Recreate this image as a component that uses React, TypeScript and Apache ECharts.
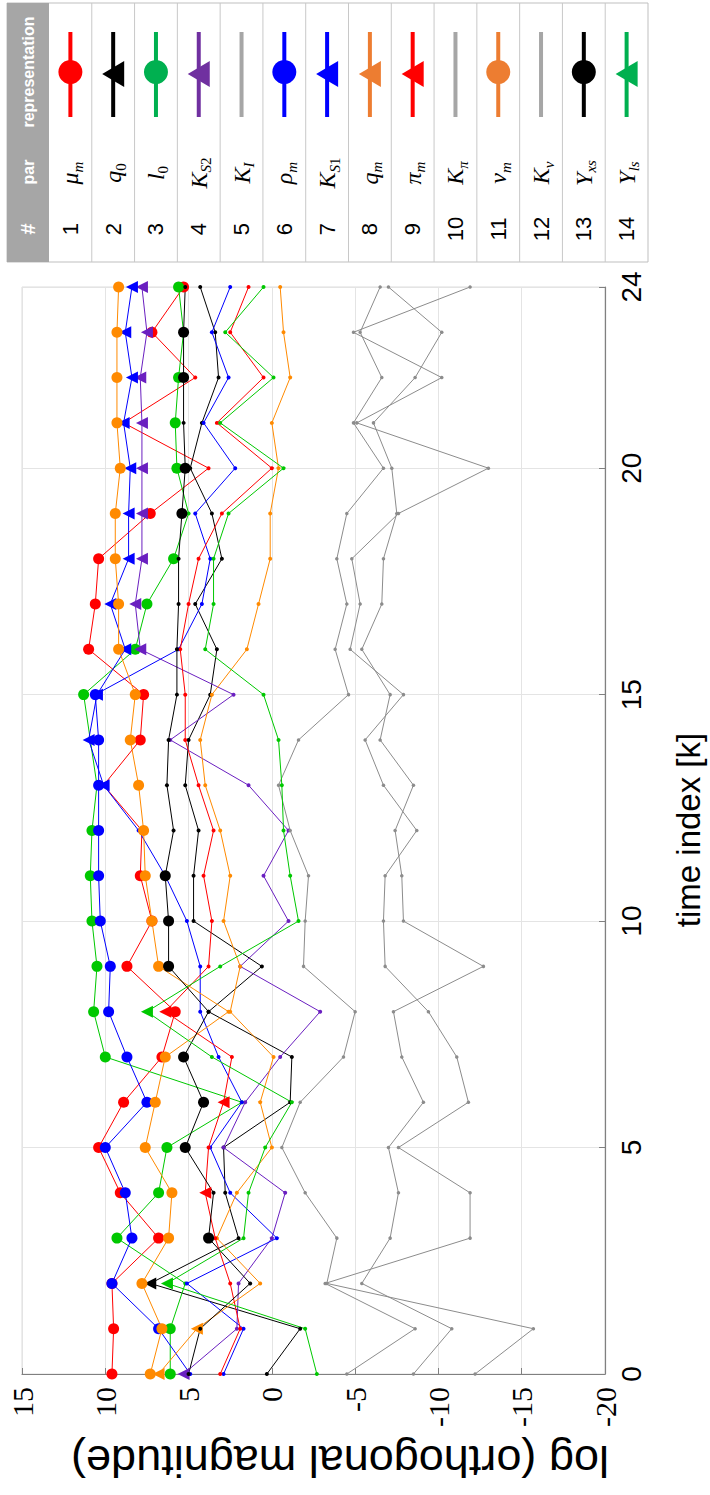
import React, { useEffect, useRef } from "react";
import * as echarts from "echarts";

// ---------- data ----------
const timeIndex = [0, 1, 2, 3, 4, 5, 6, 7, 8, 9, 10, 11, 12, 13, 14, 15, 16, 17, 18, 19, 20, 21, 22, 23, 24];
const valueTicks = [15, 10, 5, 0, -5, -10, -15, -20];

const muM = [9.6, 9.5, 9.6, 6.8, 9.1, 10.4, 8.9, 6.6, 5.8, 8.7, 7.2, 7.9, 7.8, 10.1, 7.9, 7.7, 11.0, 10.6, 10.4, 7.3, 3.8, 8.9, 4.6, 7.2, 5.3];
const q0 = [0.3, -1.7, 7.3, 2.0, 2.8, 2.9, -1.1, -1.2, 3.8, 0.6, 4.7, 4.7, 4.4, 5.2, 5.0, 3.7, 3.3, 4.6, 3.0, 3.6, 4.9, 4.2, 3.2, 3.4, 4.3];
const l0 = [6.1, 6.1, 5.2, 9.3, 6.8, 6.3, 1.8, 10.0, 10.7, 10.5, 10.8, 10.9, 10.8, 10.5, 10.9, 11.3, 8.2, 7.5, 5.9, 5.0, 5.7, 5.8, 5.6, 5.3, 5.6];
const kS2 = [5.3, 2.1, 2.0, 0.0, -0.8, 2.9, 1.6, -0.5, -2.9, 1.9, -1.0, 0.5, -1.0, 1.4, 6.1, 2.3, 7.9, 8.2, 7.8, 7.8, 7.8, 7.8, 7.9, 7.5, 7.8];
const kI = [-4.5, -8.6, -3.2, -11.9, -11.9, -7.6, -11.8, -11.1, -9.4, -6.8, -6.7, -6.8, -8.7, -6.7, -5.6, -7.9, -4.7, -5.3, -4.8, -7.6, -13.0, -5.1, -10.2, -4.9, -11.9];
const rhoM = [4.9, 6.8, 9.6, 8.4, 8.8, 10.0, 7.5, 8.7, 9.8, 9.7, 10.3, 10.4, 10.4, 10.4, 10.4, 10.6, 5.6, 4.2, 3.7, 4.6, 2.2, 4.1, 2.6, 3.6, 2.5];
const kS1 = [2.9, 1.7, 5.1, -0.3, 2.5, 3.7, 1.8, 3.2, 4.3, 4.3, 5.1, 6.4, 8.0, 10.1, 11.0, 10.5, 8.8, 9.7, 8.6, 8.6, 8.5, 8.9, 8.4, 8.8, 8.4];
const qM = [6.8, 4.5, 0.7, 3.3, 2.1, 0.0, 0.7, -0.1, 2.5, 1.9, 2.9, 2.5, 3.1, 4.0, 4.3, 3.6, 1.5, 0.8, 0.1, 0.1, -0.4, 0.0, -1.1, -0.7, -0.5];
const piM = [3.1, 1.9, 2.5, 3.4, 4.0, 3.8, 2.9, 2.4, 6.4, 3.8, 3.6, 4.1, 3.5, 4.4, 5.2, 5.2, 5.5, 5.0, 4.4, 3.0, 0.0, 3.3, 0.5, 2.5, 1.4];
const kPi = [-12.2, -15.7, -3.3, -3.9, -2.0, -0.6, -1.7, -4.3, -5.0, -1.9, -2.0, -2.2, -1.1, -0.4, -1.6, -4.6, -3.8, -4.5, -3.9, -4.5, -6.7, -4.9, -6.6, -5.3, -6.5];
const vM = [7.3, 6.6, 7.8, 6.2, 6.0, 7.6, 7.0, 6.4, 2.6, 6.8, 7.2, 7.6, 7.7, 8.0, 8.5, 8.2, 9.2, 9.2, 9.4, 9.4, 9.1, 9.3, 9.3, 9.3, 9.2];
const kV = [-8.5, -10.8, -5.4, -7.1, -7.6, -7.0, -9.1, -7.8, -7.3, -12.7, -7.9, -7.8, -7.4, -8.5, -6.5, -7.1, -5.4, -6.6, -6.7, -7.5, -7.2, -6.1, -8.6, -10.2, -7.0];
const yXs = [5.0, 4.3, 1.3, 3.8, 3.5, 5.2, 4.1, 5.3, 3.8, 6.2, 6.2, 6.4, 5.9, 6.3, 6.2, 5.7, 5.7, 5.6, 5.6, 5.4, 5.2, 5.3, 5.3, 5.3, 5.2];
const yLs = [-2.7, -2.0, 6.3, 1.7, 1.4, 0.4, -1.2, 3.6, 7.5, 3.1, -1.6, -1.1, -0.7, -0.6, -0.4, 0.5, 4.0, 3.5, 3.5, 2.6, -0.7, 3.1, -0.1, 2.8, 0.5];

// time indices at which each parameter is drawn with its representative (large) marker
const muMBig = [0, 1, 2, 3, 4, 5, 6, 7, 8, 9, 10, 11, 14, 15, 16, 17, 18, 19, 23, 24];
const q0Big = [2];
const l0Big = [0, 1, 3, 4, 5, 7, 8, 9, 10, 11, 12, 15, 16, 17, 18, 20, 21, 22, 24];
const kS2Big = [0, 16, 17, 18, 19, 20, 21, 22, 23, 24];
const rhoMBig = [1, 2, 3, 4, 5, 6, 7, 8, 9, 10, 11, 12, 13, 14, 15];
const kS1Big = [13, 14, 15, 16, 17, 18, 19, 20, 21, 22, 23, 24];
const qMBig = [0, 1];
const piMBig = [4, 6, 8];
const vMBig = [0, 1, 2, 3, 4, 5, 6, 7, 9, 10, 11, 12, 13, 14, 15, 16, 17, 18, 19, 20, 21, 22, 23, 24];
const yXsBig = [3, 5, 6, 7, 9, 10, 11, 19, 20, 22, 23];
const yLsBig = [2, 8];

const legendNumbers = ["1", "2", "3", "4", "5", "6", "7", "8", "9", "10", "11", "12", "13", "14"];
const legendPars = [
  "{i|μ}{s|m}", "{i|q}{n|0}", "{i|l}{n|0}", "{i|K}{s|S}{n|2}", "{i|K}{s|I}", "{i|ρ}{s|m}", "{i|K}{s|S}{n|1}",
  "{i|q}{s|m}", "{i|π}{s|m}", "{i|K}{s|π}", "{i|v}{s|m}", "{i|K}{s|v}", "{i|Y}{s|xs}", "{i|Y}{s|ls}",
];

// ---------- styles ----------
const RED = "#ff0000";
const BLACK = "#000000";
const GREEN = "#00c800";
const PURPLE = "#6a1fc0";
const GRAY = "#8c8c8c";
const BLUE = "#0000ff";
const ORANGE = "#ff8a00";

const legendColors = ["#ff0000", "#000000", "#00b050", "#7030a0", "#a6a6a6", "#0000ff", "#0000ff", "#ed7d31", "#ff0000", "#a6a6a6", "#ed7d31", "#a6a6a6", "#000000", "#00b050"];
const legendMarks = ["circle", "triangle", "circle", "triangle", "none", "circle", "triangle", "triangle", "triangle", "none", "circle", "none", "circle", "triangle"];

function markerSeries(name: string, values: number[], color: string, shape: string, big: number[]) {
  const bigSize = shape === "triangle" ? 12 : 11;
  return {
    name,
    type: "line",
    data: timeIndex.map((k, i) => [values[i], k]),
    lineStyle: { color, width: 1 },
    itemStyle: { color },
    showSymbol: true,
    symbol: (_v: any, p: any) => (big.includes(p.dataIndex) ? shape : "circle"),
    symbolSize: (_v: any, p: any) => (big.includes(p.dataIndex) ? bigSize : 4),
    symbolRotate: shape === "triangle" ? 90 : 0,
    silent: true,
    emphasis: { disabled: true },
  };
}

function graySeries(name: string, values: number[]) {
  return {
    name,
    type: "line",
    data: timeIndex.map((k, i) => [values[i], k]),
    lineStyle: { color: GRAY, width: 1 },
    itemStyle: { color: GRAY },
    showSymbol: true,
    symbol: "circle",
    symbolSize: 3.5,
    silent: true,
    emphasis: { disabled: true },
  };
}

function buildLegend() {
  const els: any[] = [];
  const x0 = 7, x1 = 49, x2 = 648, y0 = 3, y1 = 262;
  const colW = (x2 - x1) / 14;
  els.push({ type: "rect", shape: { x: x0, y: y0, width: x2 - x0, height: y1 - y0 }, style: { fill: "#ffffff", stroke: "#bfbfbf", lineWidth: 1 }, z: 1 });
  els.push({ type: "rect", shape: { x: x0, y: y0, width: x1 - x0, height: y1 - y0 }, style: { fill: "#a6a6a6" }, z: 2 });
  const hdr = (t: string, y: number, size: number) => ({
    type: "text", x: (x0 + x1) / 2, y, rotation: Math.PI / 2, z: 3,
    style: { text: t, fill: "#ffffff", fontSize: size, fontWeight: "bold", fontFamily: "Liberation Sans, Arial, sans-serif", align: "center", verticalAlign: "middle" },
  });
  els.push(hdr("#", 229, 20));
  els.push(hdr("par", 172, 16));
  els.push(hdr("representation", 72, 16));
  for (let i = 0; i < 14; i++) {
    const cx = x1 + colW * (i + 0.5);
    const c = legendColors[i];
    if (i < 13) {
      const sx = x1 + colW * (i + 1);
      els.push({ type: "line", shape: { x1: sx, y1: y0, x2: sx, y2: y1 }, style: { stroke: "#c8c8c8", lineWidth: 1 }, z: 2 });
    }
    els.push({ type: "line", shape: { x1: cx, y1: 32, x2: cx, y2: 117 }, style: { stroke: c, lineWidth: 4 }, z: 3 });
    if (legendMarks[i] === "circle") {
      els.push({ type: "circle", shape: { cx, cy: 72, r: 12 }, style: { fill: c }, z: 4 });
    } else if (legendMarks[i] === "triangle") {
      els.push({ type: "polygon", shape: { points: [[cx - 11, 74], [cx + 11, 61], [cx + 11, 87]] }, style: { fill: c }, z: 4 });
    }
    els.push({
      type: "text", x: cx, y: 229, rotation: Math.PI / 2, z: 3,
      style: { text: legendNumbers[i], fill: "#000", fontSize: 22, fontFamily: "Liberation Sans, Arial, sans-serif", align: "center", verticalAlign: "middle" },
    });
    els.push({
      type: "text", x: cx, y: 173, rotation: Math.PI / 2, z: 3,
      style: {
        text: legendPars[i], align: "center", verticalAlign: "middle",
        rich: {
          i: { fontSize: 24, fontStyle: "italic", fontFamily: "Liberation Serif, serif", fill: "#000", lineHeight: 30, verticalAlign: "middle" },
          s: { fontSize: 15, fontStyle: "italic", fontFamily: "Liberation Serif, serif", fill: "#000", lineHeight: 16, verticalAlign: "bottom" },
          n: { fontSize: 15, fontFamily: "Liberation Serif, serif", fill: "#000", lineHeight: 16, verticalAlign: "bottom" },
        },
      },
    });
  }
  return els;
}

export default function App() {
  const ref = useRef<HTMLDivElement>(null);
  useEffect(() => {
    if (!ref.current) return;
    const chart = echarts.init(ref.current, null, { renderer: "svg" });
    const option: any = {
      animation: false,
      backgroundColor: "#ffffff",
      grid: { left: 22, right: 105, top: 287, bottom: 121, show: true, borderColor: "#dcdcdc", borderWidth: 1, backgroundColor: "transparent" },
      xAxis: {
        type: "value", min: -20, max: 15, interval: 5, inverse: true, position: "bottom",
        axisLine: { show: true, onZero: false, lineStyle: { color: "#808080", width: 1.2 } },
        axisTick: { show: true, inside: true, length: 6, lineStyle: { color: "#808080" } },
        splitLine: { show: true, lineStyle: { color: "#e4e4e4", width: 1 } },
        axisLabel: {
          rotate: 90, margin: 13, fontSize: 30, color: "#000",
          fontFamily: "Liberation Serif, serif",
          formatter: (v: number) => (valueTicks.includes(v) ? String(v) : ""),
        },
      },
      yAxis: {
        type: "value", min: 0, max: 24, interval: 5, position: "right",
        axisLine: { show: true, onZero: false, lineStyle: { color: "#808080", width: 1.2 } },
        axisTick: { show: true, inside: true, length: 6, lineStyle: { color: "#808080" } },
        splitLine: { show: true, lineStyle: { color: "#e4e4e4", width: 1 } },
        axisLabel: {
          rotate: 90, margin: 12, fontSize: 28, color: "#000",
          fontFamily: "Liberation Sans Narrow, Liberation Sans, sans-serif",
          showMaxLabel: true, showMinLabel: true,
        },
      },
      graphic: [
        ...buildLegend(),
        {
          type: "text", x: 340, y: 1461, rotation: Math.PI,
          style: { text: "log (orthogonal magnitude)", fill: "#000", fontSize: 45, fontFamily: "Liberation Sans, Arial, sans-serif", align: "center", verticalAlign: "middle" },
        },
        {
          type: "text", x: 688, y: 830, rotation: Math.PI / 2,
          style: { text: "time index [k]", fill: "#000", fontSize: 33, fontFamily: "Liberation Sans Narrow, Liberation Sans, sans-serif", align: "center", verticalAlign: "middle" },
        },
      ],
      series: [
        markerSeries("μm", muM, RED, "circle", muMBig),
        markerSeries("q0", q0, BLACK, "triangle", q0Big),
        markerSeries("l0", l0, GREEN, "circle", l0Big),
        markerSeries("KS2", kS2, PURPLE, "triangle", kS2Big),
        graySeries("KI", kI),
        markerSeries("ρm", rhoM, BLUE, "circle", rhoMBig),
        markerSeries("KS1", kS1, BLUE, "triangle", kS1Big),
        markerSeries("qm", qM, ORANGE, "triangle", qMBig),
        markerSeries("πm", piM, RED, "triangle", piMBig),
        graySeries("Kπ", kPi),
        markerSeries("vm", vM, ORANGE, "circle", vMBig),
        graySeries("Kv", kV),
        markerSeries("Yxs", yXs, BLACK, "circle", yXsBig),
        markerSeries("Yls", yLs, GREEN, "triangle", yLsBig),
      ],
    };
    chart.setOption(option);
    return () => chart.dispose();
  }, []);
  return <div ref={ref} style={{ position: "absolute", left: 0, top: 0, width: 710, height: 1495, background: "#fff" }} />;
}
